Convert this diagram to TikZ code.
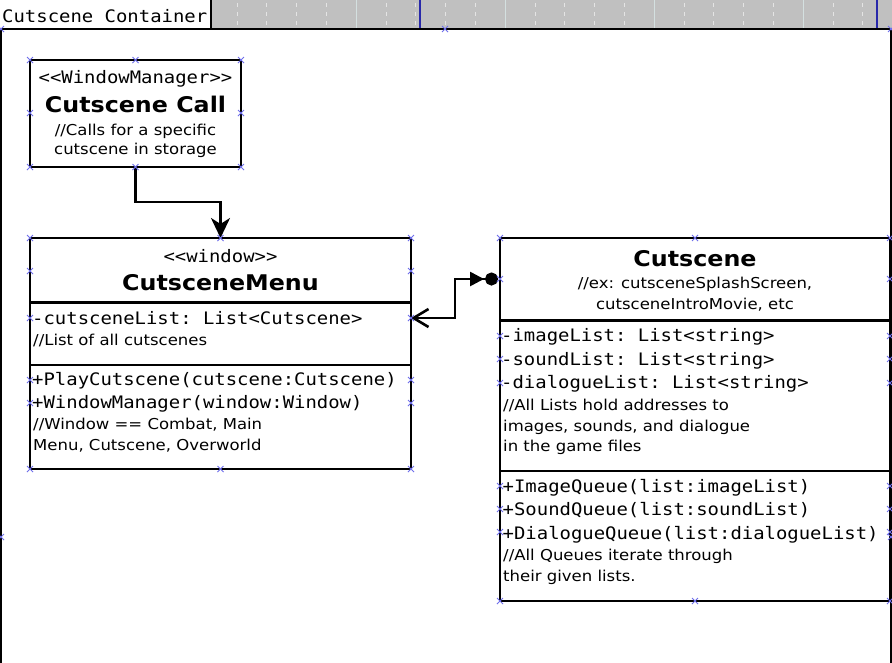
\documentclass[tikz,border=0pt]{standalone}
\usepackage{fontspec}
\setmainfont{DejaVu Sans}[FakeStretch=1.1]
\setmonofont{DejaVu Sans Mono}[FakeStretch=1.1]
\usetikzlibrary{arrows.meta,calc}
\definecolor{barGray}{RGB}{192,192,192}
\definecolor{gridLine}{RGB}{212,224,224}
\definecolor{gridDash}{RGB}{228,228,228}
\definecolor{handleBlue}{RGB}{110,110,235}
\definecolor{barBlue}{RGB}{40,40,170}
\begin{document}
\begin{tikzpicture}[x=1pt,y=-1pt,
  boxline/.style={draw=black,line width=2.7pt},
  umlbox/.style={draw=black,line width=2.7pt,fill=white,inner sep=0pt,outer sep=0pt,anchor=north west},
  mono/.style={font=\ttfamily\fontsize{17.2}{23}\selectfont,inner sep=0pt},
  ttl/.style={font=\bfseries\fontsize{21.6}{26}\selectfont,inner sep=0pt},
  cmt/.style={font=\fontsize{15}{20}\selectfont,inner sep=0pt},
  conn/.style={draw=black,line width=2.6pt},
  handle/.style={draw=handleBlue,line width=0.9pt}]
\useasboundingbox (0,0) rectangle (892,662);
\clip (0,0) rectangle (892,662);
\fill[white] (0,0) rectangle (892,662);
% top bar
\fill[barGray] (0,0) rectangle (892,29);
\foreach \k in {-1,...,21}{%
  \pgfmathsetmacro\xx{237+29.8*\k}%
  \pgfmathtruncatemacro\m{mod(\k+6,5)}%
  \ifnum\m=0
    \draw[gridLine,line width=1pt] (\xx,0) -- (\xx,28);
  \else
    \draw[gridDash,line width=1pt,dash pattern=on 4pt off 5pt] (\xx,3) -- (\xx,28);
  \fi
}
\draw[barBlue,line width=1.2pt] (420,0) -- (420,29);
\draw[barBlue,line width=1.2pt] (877,0) -- (877,29);
\fill[white] (0,0) rectangle (211,29);
\draw[line width=2pt] (211,0) -- (211,29);
\node[mono,anchor=base west] (title) at (2,22) {Cutscene Container};
% container
\node[draw=black,line width=2.2pt,inner sep=0pt,outer sep=0pt,anchor=north west,
      minimum width=890pt,minimum height=1016pt] (cont) at (1,29) {};
% boxes
\node[umlbox,minimum width=211pt,minimum height=107pt] (call) at (30,60) {};
\node[umlbox,minimum width=381pt,minimum height=231pt] (menu) at (30,238) {};
\node[umlbox,minimum width=390pt,minimum height=363pt] (cut) at (500,238) {};
\draw[boxline] (menu.west |- 0,302.5) -- (menu.east |- 0,302.5);
\draw[boxline] (menu.west |- 0,365) -- (menu.east |- 0,365);
\draw[boxline] (cut.west |- 0,320.5) -- (cut.east |- 0,320.5);
\draw[boxline] (cut.west |- 0,471) -- (cut.east |- 0,471);
% Cutscene Call text
\node[mono,anchor=base] (callst) at (135.5,83) {<<WindowManager>>};
\node[ttl,anchor=base] (callname) at (135.5,112) {Cutscene Call};
\node[cmt,anchor=base] (callc1) at (135.5,135) {//Calls for a specific};
\node[cmt,anchor=base] (callc2) at (135.5,154.5) {cutscene in storage};
% CutsceneMenu text
\node[mono,anchor=base] (menust) at (220.5,262) {<<window>>};
\node[ttl,anchor=base] (menuname) at (220.5,290) {CutsceneMenu};
\node[mono,anchor=base west] (menua1) at (32,324) {-cutsceneList: List<Cutscene>};
\node[cmt,anchor=base west] (menua2) at (33,345) {//List of all cutscenes};
\node[mono,anchor=base west] (menum1) at (32,385) {+PlayCutscene(cutscene:Cutscene)};
\node[mono,anchor=base west] (menum2) at (32,408) {+WindowManager(window:Window)};
\node[cmt,anchor=base west] (menuc1) at (33,429) {//Window == Combat, Main};
\node[cmt,anchor=base west] (menuc2) at (33,450) {Menu, Cutscene, Overworld};
% Cutscene text
\node[ttl,anchor=base] (cutname) at (695,266) {Cutscene};
\node[cmt,anchor=base] (cutc1) at (695,288.5) {//ex: cutsceneSplashScreen,};
\node[cmt,anchor=base] (cutc2) at (695,309) {cutsceneIntroMovie, etc};
\node[mono,anchor=base west] (cuta1) at (501,341) {-imageList: List<string>};
\node[mono,anchor=base west] (cuta2) at (501,365) {-soundList: List<string>};
\node[mono,anchor=base west] (cuta3) at (501,388.5) {-dialogueList: List<string>};
\node[cmt,anchor=base west] (cutac1) at (503,410) {//All Lists hold addresses to};
\node[cmt,anchor=base west] (cutac2) at (503,431) {images, sounds, and dialogue};
\node[cmt,anchor=base west] (cutac3) at (503,451) {in the game files};
\node[mono,anchor=base west] (cutm1) at (502.5,492) {+ImageQueue(list:imageList)};
\node[mono,anchor=base west] (cutm2) at (502.5,515.5) {+SoundQueue(list:soundList)};
\node[mono,anchor=base west] (cutm3) at (502.5,539) {+DialogueQueue(list:dialogueList)};
\node[cmt,anchor=base west] (cutmc1) at (503,560) {//All Queues iterate through};
\node[cmt,anchor=base west] (cutmc2) at (503,581) {their given lists.};
% connectors
\draw[conn,-{Stealth[length=20pt,width=19pt,inset=6pt]}] (call.south) -- ++(0,35) -| (menu.north);
\draw[conn,{Straight Barb[length=15pt,width=18pt]}-{Triangle[length=14pt,width=14pt,sep=1pt]Circle[length=13pt]}]
  ($(menu.north east)+(0,80)$) -- ++(44,0) |- ($(cut.north west)+(-2,41)$);
% selection handles
\foreach \p in {(1,29),(445,29),(891,29),(1,537),(891,537),
  (30,60),(135.5,60),(241,60),(30,113),(241,113),(30,167),(135.5,167),(241,167),
  (30,238),(220.5,238),(411,238),(30,271),(411,271),(30,318),(411,318),(30,380),(411,380),
  (30,403),(411,403),(30,469),(220.5,469),(411,469),
  (500,238),(695,238),(890,238),(500,279),(890,279),(500,336),(890,336),(500,359),(890,359),
  (500,383),(890,383),(500,486),(890,486),(500,509),(890,509),(500,532),(890,532),
  (500,601),(695,601),(890,601)}{
  \draw[handle] \p +(-3,-3) -- +(3,3) \p +(-3,3) -- +(3,-3);
}
\end{tikzpicture}
\end{document}
